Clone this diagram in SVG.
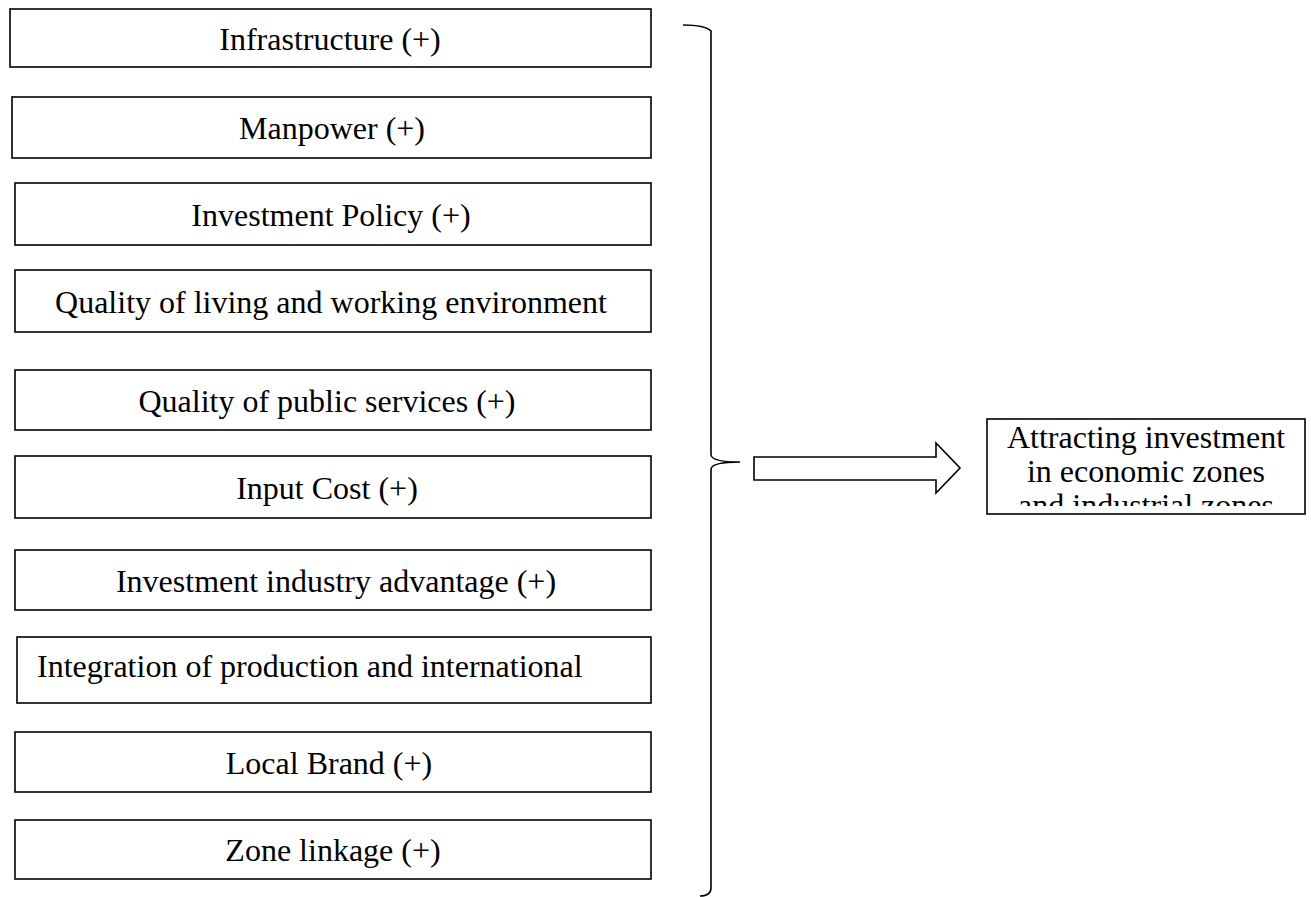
<svg xmlns="http://www.w3.org/2000/svg" width="1311" height="897" viewBox="0 0 1311 897">
<style>
.box{fill:#fff;stroke:#000;stroke-width:1.6}
.t{font-family:"Liberation Serif","Times New Roman",serif;font-size:32px;fill:#000;text-anchor:middle}
.ln{fill:none;stroke:#000;stroke-width:1.6}
</style>
<defs>
<clipPath id="clipR"><rect x="987" y="400" width="320" height="106"/></clipPath>
</defs>
<g id="n1"><rect class="box" x="10" y="9" width="641" height="58"/><text class="t" x="330" y="50">Infrastructure (+)</text></g>
<g id="n2"><rect class="box" x="12" y="97" width="639" height="61"/><text class="t" x="332" y="139">Manpower (+)</text></g>
<g id="n3"><rect class="box" x="15" y="183" width="636" height="62"/><text class="t" x="331" y="226">Investment Policy (+)</text></g>
<g id="n4"><rect class="box" x="15" y="270" width="636" height="62"/><text class="t" x="331" y="313">Quality of living and working environment</text></g>
<g id="n5"><rect class="box" x="15" y="370" width="636" height="60"/><text class="t" x="327" y="412">Quality of public services (+)</text></g>
<g id="n6"><rect class="box" x="15" y="456" width="636" height="62"/><text class="t" x="327" y="499">Input Cost (+)</text></g>
<g id="n7"><rect class="box" x="15" y="550" width="636" height="60"/><text class="t" x="336" y="592">Investment industry advantage (+)</text></g>
<g id="n8"><rect class="box" x="17" y="637" width="634" height="66"/><text class="t" x="37" y="677" style="text-anchor:start">Integration of production and international</text></g>
<g id="n9"><rect class="box" x="15" y="732" width="636" height="60"/><text class="t" x="329" y="774">Local Brand (+)</text></g>
<g id="n10"><rect class="box" x="15" y="820" width="636" height="59"/><text class="t" x="333" y="861">Zone linkage (+)</text></g>
<g id="target"><rect class="box" x="987" y="419" width="318" height="95"/>
<g clip-path="url(#clipR)">
<text class="t" x="1146" y="448">Attracting investment</text>
<text class="t" x="1146" y="482">in economic zones</text>
<text class="t" x="1146" y="516">and industrial zones</text>
</g></g>
<g id="connectors">
<path class="ln" d="M683,25 Q705,25 711,31 L711,455 Q712,462 740,462 Q712,462 711,469 L711,888 Q711,896 700,896"/>
<polygon class="ln" points="754,457 936,457 936,443 960,468 936,493 936,480 754,480"/>
</g>
</svg>
